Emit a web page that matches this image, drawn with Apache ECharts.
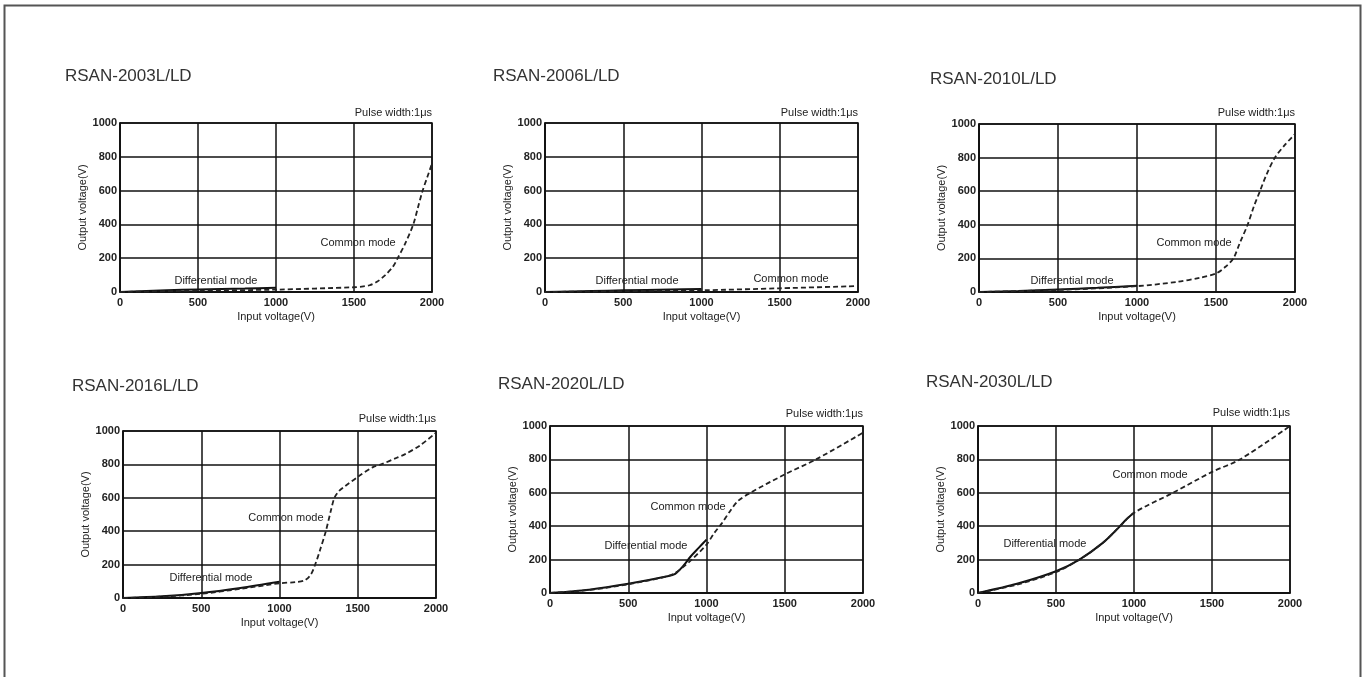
<!DOCTYPE html>
<html>
<head>
<meta charset="utf-8">
<script src="https://cdn.jsdelivr.net/npm/echarts@6/dist/echarts.min.js"></script>
<style>
html,body{margin:0;padding:0;background:#fff;}
#chart{width:1362px;height:677px;}
</style>
</head>
<body>
<div id="chart"></div>
<script>
// ---- data ----
const panelTitles = ['RSAN-2003L/LD','RSAN-2006L/LD','RSAN-2010L/LD','RSAN-2016L/LD','RSAN-2020L/LD','RSAN-2030L/LD'];
const pulseText = 'Pulse width:1\u03bcs';
const xTicks = [0, 500, 1000, 1500, 2000];
const yTicks = [0, 200, 400, 600, 800, 1000];
const xName = 'Input voltage(V)';
const yName = 'Output voltage(V)';
const diffName = 'Differential mode';
const commonName = 'Common mode';

// Differential mode (solid) [input, output]
const diff2003 = [[0,0],[300,10],[500,15],[800,20],[1000,25]];
const diff2006 = [[0,0],[300,6],[500,10],[800,15],[1000,18]];
const diff2010 = [[0,0],[250,6],[500,15],[750,25],[1000,37]];
const diff2016 = [[0,0],[250,10],[500,30],[750,60],[1000,97]];
const diff2020 = [[0,0],[250,20],[500,55],[750,100],[800,115],[850,160],[900,220],[950,270],[1000,320]];
const diff2030 = [[0,0],[250,55],[500,130],[650,200],[800,300],[900,390],[950,440],[1000,480]];

// Common mode (dashed) [input, output]
const comm2003 = [[0,0],[500,8],[1000,14],[1500,28],[1560,33],[1600,40],[1650,62],[1700,100],[1750,150],[1780,200],[1830,290],[1880,400],[1910,500],[1940,600],[1970,680],[2000,760]];
const comm2006 = [[0,0],[500,5],[1000,10],[1500,22],[2000,35]];
const comm2010 = [[0,0],[500,12],[1000,35],[1250,60],[1400,85],[1500,110],[1560,150],[1610,200],[1650,290],[1700,400],[1740,510],[1778,600],[1820,700],[1873,800],[1940,880],[2000,940]];
const comm2016 = [[0,0],[250,8],[500,25],[750,55],[1000,88],[1100,95],[1160,105],[1200,140],[1228,200],[1260,290],[1296,400],[1330,530],[1351,600],[1380,640],[1420,670],[1500,725],[1600,785],[1650,800],[1750,840],[1800,860],[1900,915],[2000,990]];
const comm2020 = [[0,0],[250,18],[500,52],[750,100],[800,120],[850,155],[900,195],[1000,290],[1050,360],[1100,420],[1150,490],[1200,550],[1280,600],[1500,710],[1700,800],[2000,960]];
const comm2030 = [[0,0],[250,50],[500,125],[650,200],[800,300],[900,390],[1000,480],[1250,600],[1500,725],[1680,800],[2000,1000]];

// label anchor points in data coords [input, output]
const diffLabelAt = [[615,65],[588,65],[589,65],[562,120],[613,281],[429,293]];
const commLabelAt = [[1526,290],[1572,77],[1361,290],[1041,479],[882,515],[1103,707]];

const diffData = [diff2003, diff2006, diff2010, diff2016, diff2020, diff2030];
const commData = [comm2003, comm2006, comm2010, comm2016, comm2020, comm2030];

// ---- layout ----
const grids = [
  {left:120, top:123, width:312, height:169},
  {left:545, top:123, width:313, height:169},
  {left:979, top:124, width:316, height:168},
  {left:123, top:431, width:313, height:167},
  {left:550, top:426, width:313, height:167},
  {left:978, top:426, width:312, height:167}
];
const titlePos = [[65,68],[493,68],[930,71],[72,378],[498,376],[926,374]];
const pulseTop = [107,107,107,413,408,407];

const FONT = '"Liberation Sans", Arial, sans-serif';

const option = {
  backgroundColor:'#fff',
  animation:false,
  title: [],
  grid: [],
  xAxis: [],
  yAxis: [],
  series: [],
  graphic: [{
    type:'rect', shape:{x:4.5, y:5.5, width:1356, height:700},
    style:{fill:'none', stroke:'#555', lineWidth:2}, silent:true
  }]
};

const plain = v => String(v);

for (let i = 0; i < 6; i++) {
  const g = grids[i];
  option.grid.push({left:g.left, top:g.top, width:g.width, height:g.height,
    show:true, borderColor:'#111', borderWidth:1.5, backgroundColor:'transparent'});
  option.title.push({text:panelTitles[i], left:titlePos[i][0], top:titlePos[i][1], padding:0,
    textStyle:{fontFamily:FONT, fontSize:17, fontWeight:'normal', color:'#333'}});
  option.title.push({text:pulseText, right:1362 - (g.left + g.width), top:pulseTop[i], padding:0,
    textStyle:{fontFamily:FONT, fontSize:11, fontWeight:'normal', color:'#222'}});
  option.xAxis.push({
    type:'value', gridIndex:i, min:xTicks[0], max:xTicks[xTicks.length-1], interval:500,
    name:xName, nameLocation:'middle', nameGap:19,
    nameTextStyle:{fontFamily:FONT, fontSize:11, color:'#222'},
    axisLine:{show:true, lineStyle:{color:'#111', width:1.5}},
    axisTick:{show:false},
    axisLabel:{fontFamily:FONT, fontSize:11, fontWeight:'bold', color:'#222', margin:5, formatter:plain},
    splitLine:{show:true, lineStyle:{color:'#111', width:1.5}}
  });
  option.yAxis.push({
    type:'value', gridIndex:i, min:yTicks[0], max:yTicks[yTicks.length-1], interval:200,
    name:yName, nameLocation:'middle', nameGap:26,
    nameTextStyle:{fontFamily:FONT, fontSize:11, color:'#222'},
    axisLine:{show:true, lineStyle:{color:'#111', width:1.5}},
    axisTick:{show:false},
    axisLabel:{fontFamily:FONT, fontSize:11, fontWeight:'bold', color:'#222', margin:3, formatter:plain},
    splitLine:{show:true, lineStyle:{color:'#111', width:1.5}}
  });
  option.series.push({
    type:'line', xAxisIndex:i, yAxisIndex:i, data:diffData[i], smooth:0.3,
    showSymbol:false, symbol:'none', lineStyle:{color:'#111', width:2}, z:3,
    markPoint:{symbol:'circle', symbolSize:0, silent:true,
      label:{show:true, formatter:'{b}', position:'inside', fontFamily:FONT, fontSize:11, color:'#222'},
      data:[{name:diffName, coord:diffLabelAt[i]}]}
  });
  option.series.push({
    type:'line', xAxisIndex:i, yAxisIndex:i, data:commData[i], smooth:0.3,
    showSymbol:false, symbol:'none', lineStyle:{color:'#222', width:1.8, type:[5,3]}, z:4,
    markPoint:{symbol:'circle', symbolSize:0, silent:true,
      label:{show:true, formatter:'{b}', position:'inside', fontFamily:FONT, fontSize:11, color:'#222'},
      data:[{name:commonName, coord:commLabelAt[i]}]}
  });
}

const chart = echarts.init(document.getElementById('chart'), null, {renderer:'canvas'});
chart.setOption(option);
</script>
</body>
</html>
